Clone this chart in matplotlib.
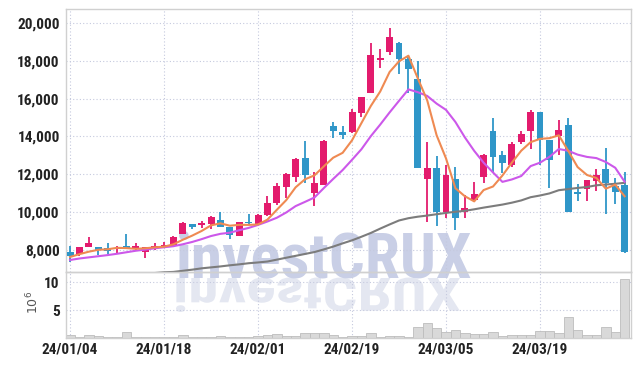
import matplotlib
matplotlib.use("Agg")
import matplotlib.pyplot as plt
import numpy as np
import pandas as pd
from matplotlib.textpath import TextPath
from matplotlib.patches import PathPatch
from matplotlib.font_manager import FontProperties
from matplotlib.transforms import Affine2D

# trading days (KRX holidays removed)
dates = pd.bdate_range("2024-01-04", "2024-04-01", freq="C",
                       holidays=["2024-02-09", "2024-02-12", "2024-03-01"])

opens = [7880, 7770, 8180, 8170, 8090, 8040, 8210, 8070, 7910, 8070,
         8140, 8230, 8830, 9370, 9320, 9380, 9590, 9200, 8760, 9470,
         9380, 9850, 10460, 11350, 11850, 12880, 11000, 11460, 14560, 14240,
         14220, 15240, 16290, 18020, 18490, 18930, 18090, 17030, 11740, 12320,
         10030, 11740, 10000, 10650, 11850, 14290, 13020, 12500, 13730, 14270,
         15280, 13820, 14000, 14610, 11050, 11250, 11670, 12290, 11390, 11440]
highs = [8200, 8175, 8670, 8180, 8390, 8210, 8830, 8350, 8150, 8350,
         8440, 8720, 9460, 9400, 9550, 9800, 10030, 9200, 9480, 9890,
         9900, 10860, 11530, 12050, 12880, 13770, 12140, 13800, 14760, 14580,
         15450, 16100, 18930, 18620, 19730, 18990, 18230, 18010, 13730, 12970,
         12500, 12370, 10910, 11610, 13050, 14960, 13250, 13730, 14300, 15400,
         15290, 13830, 14870, 14970, 11470, 11720, 12290, 13390, 11790, 12140]
lows = [7370, 7700, 8170, 7740, 7790, 7830, 8060, 7960, 7560, 8000,
        8090, 8170, 8830, 9100, 9180, 9100, 9230, 8570, 8740, 9380,
        9370, 9800, 10380, 10740, 11610, 11560, 10330, 11450, 13940, 13870,
        14200, 15050, 16280, 17610, 18320, 17300, 16320, 12320, 9500, 9270,
        9680, 9060, 9680, 10555, 11560, 12140, 12090, 12370, 13610, 13330,
        12500, 11300, 13030, 10020, 10590, 10590, 11120, 9890, 10410, 7820]
closes = [7700, 8140, 8390, 8000, 7960, 8080, 8070, 8200, 8140, 8210,
          8250, 8700, 9410, 9230, 9440, 9730, 9230, 8790, 9460, 9420,
          9850, 10500, 11390, 12020, 12810, 11970, 11530, 13780, 14310, 14090,
          15280, 16080, 18310, 18140, 19250, 18090, 17560, 12320, 12320, 10030,
          11970, 9680, 10210, 10960, 13020, 12910, 12590, 13590, 14130, 15280,
          13790, 12760, 14350, 10030, 10980, 11700, 11970, 11530, 11090, 7910]
volumes = [0.5, 0.2, 0.55, 0.4, 0.25, 0.25, 1.1, 0.25, 0.2, 0.2,
           0.2, 0.25, 0.6, 0.25, 0.25, 0.25, 0.4, 0.2, 0.25, 0.25,
           0.35, 0.5, 0.7, 0.4, 0.4, 0.9, 0.9, 0.9, 0.5, 0.25,
           0.35, 0.35, 0.9, 0.25, 0.4, 0.4, 0.25, 2.0, 2.6, 1.8,
           1.15, 1.45, 0.9, 0.7, 0.75, 1.05, 0.4, 0.55, 0.45, 0.6,
           1.2, 1.2, 0.95, 3.7, 1.45, 0.6, 0.6, 2.0, 1.15, 10.6]  # millions

ma5 = [7630, 7780, 7910, 8010, 8038, 8114, 8100, 8062, 8090, 8140,
       8174, 8300, 8542, 8760, 9006, 9302, 9408, 9284, 9330, 9326,
       9350, 9604, 10124, 10636, 11314, 11738, 11944, 12422, 12880, 13136,
       13798, 14708, 15614, 16380, 17412, 17974, 18270, 17072, 15908, 14064,
       12840, 11264, 10842, 10570, 11168, 11356, 11938, 12614, 13248, 13700,
       13876, 13910, 14062, 13242, 12382, 11964, 11806, 11242, 11454, 10840]
ma10 = [7470, 7550, 7610, 7670, 7730, 7800, 7880, 7960, 8020, 8089,
        8144, 8200, 8302, 8425, 8573, 8738, 8854, 8913, 9045, 9166,
        9326, 9506, 9704, 9983, 10320, 10544, 10774, 11273, 11758, 12225,
        12768, 13326, 14018, 14630, 15274, 15886, 16489, 16343, 16144, 15738,
        15407, 14767, 13957, 13239, 12616, 12098, 11601, 11728, 11909, 12434,
        12616, 12924, 13338, 13245, 13041, 12920, 12858, 12652, 12348, 11611]
ma_long = [6330, 6380, 6430, 6480, 6530, 6580, 6630, 6680, 6730, 6780,
           6820, 6840, 6900, 6960, 7030, 7080, 7130, 7190, 7240, 7300,
           7340, 7390, 7490, 7590, 7690, 7790, 7890, 8030, 8180, 8350,
           8510, 8700, 8900, 9130, 9350, 9560, 9680, 9760, 9820, 9890,
           9960, 10020, 10070, 10150, 10240, 10320, 10400, 10500, 10620, 10790,
           10880, 10990, 11160, 11220, 11280, 11330, 11420, 11460, 11500, 11550]

RED = "#e31b6d"
BLUE = "#2f96c8"
GRID = "#c5c9de"
SPINE = "#d0d0d0"
FONT = ["Roboto Condensed", "DejaVu Sans"]

plt.rcParams["font.family"] = FONT

W, H = 639, 366
fig = plt.figure(figsize=(W / 100, H / 100), dpi=100)
fig.patch.set_facecolor("white")


def box(l, t, r, b):
    return [l / W, 1 - b / H, (r - l) / W, (b - t) / H]


ax = fig.add_axes(box(66, 9, 631, 272))
axv = fig.add_axes(box(66, 272, 631, 338), sharex=ax)

x = np.arange(len(dates))
o, h, l, c = (np.array(a, dtype=float) for a in (opens, highs, lows, closes))
col = np.where(c >= o, RED, BLUE)

ax.vlines(x, l, h, colors=col, linewidth=1.3, zorder=2)
ax.bar(x, np.maximum(np.abs(c - o), 45), bottom=np.minimum(o, c),
       width=0.74, color=col, linewidth=0, zorder=3)
ax.plot(x, ma_long, color="#7c7c7c", lw=1.5, zorder=4)
ax.plot(x, ma10, color="#cc58ea", lw=1.5, zorder=4)
ax.plot(x, ma5, color="#ef8a52", lw=1.5, zorder=5)

axv.bar(x, np.array(volumes) * 1e6, width=1.0, color="#d9d9d9",
        edgecolor="#bdbdbd", linewidth=0.6, zorder=2)

ax.set_xlim(-0.43, 59.68)
ax.set_ylim(6836, 20740)
axv.set_ylim(0, 11.8e6)

yt = list(range(8000, 20001, 2000))
ax.set_yticks(yt)
ax.set_yticklabels([f"{v:,}" for v in yt])
axv.set_yticks([5e6, 10e6])
axv.set_yticklabels(["5", "10"])
xt = list(range(0, len(dates), 10))
axv.set_xticks(xt)
axv.set_xticklabels([dates[i].strftime("%y/%m/%d") for i in xt])
ax.tick_params(axis="x", labelbottom=False)

for a in (ax, axv):
    a.set_facecolor("none")
    a.grid(True, linestyle=(0, (1, 2)), color=GRID, linewidth=0.8)
    a.set_axisbelow(True)
    a.tick_params(length=0, labelsize=11, labelcolor="#222222", pad=4.5)
    for lab in a.get_xticklabels() + a.get_yticklabels():
        lab.set_fontweight("bold")
    for s in a.spines.values():
        s.set_color(SPINE)
        s.set_linewidth(1.0)
axv.tick_params(axis="x", pad=3.5)

fig.text(33 / W, 1 - 302 / H, r"$10^6$", rotation=90, ha="center",
         va="center", color="#555555", fontsize=9)

# watermark + mirrored reflection
wm_font = FontProperties(family=FONT, weight="bold", size=45.5)
fig.text(176 / W, 1 - 277 / H, "investCRUX", fontproperties=wm_font,
         color="#c9cfe6", ha="left", va="baseline", zorder=-2)

tp = TextPath((0, 0), "investCRUX", prop=FontProperties(family=FONT, weight="bold", size=10))
ext = tp.get_extents()
sx = (460 - 176) / ext.width / W
sy = (312 - 278) / ext.y1 / H
flip = Affine2D().translate(-ext.x0, 0).scale(sx, -sy).translate(176 / W, 1 - 278 / H)
fig.add_artist(PathPatch(tp, transform=flip + fig.transFigure, facecolor="#e4e7f1",
                         edgecolor="none", zorder=-2))

fig.savefig("out.png", dpi=100)
